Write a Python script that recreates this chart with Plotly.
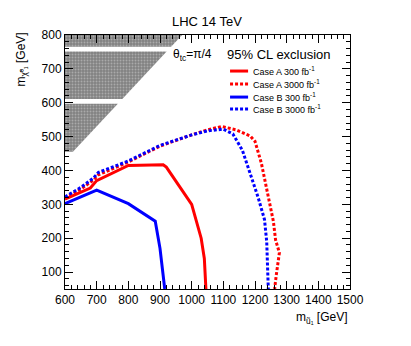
import plotly.graph_objects as go

# ---- data (GeV) ----
caseA300_x = [600, 680, 700, 800, 910, 920, 1000, 1030, 1040, 1045]
caseA300_y = [315, 348, 370, 415, 417, 410, 300, 200, 140, 50]

caseA3000_x = [600, 650, 690, 705, 800, 900, 1000, 1050, 1095, 1140, 1185, 1200, 1220, 1240, 1258, 1265, 1277, 1267, 1262]
caseA3000_y = [318, 345, 372, 387, 425, 472, 505, 520, 530, 520, 502, 486, 422, 334, 250, 195, 157, 90, 50]

caseB300_x = [600, 700, 800, 885, 900, 915]
caseB300_y = [302, 342, 302, 250, 170, 50]

caseB3000_x = [600, 650, 690, 705, 800, 900, 1000, 1050, 1100, 1130, 1160, 1185, 1210, 1230, 1237, 1242]
caseB3000_y = [322, 350, 378, 394, 428, 474, 505, 517, 522, 508, 460, 388, 320, 255, 190, 50]

series_names = ["Case A 300 fb<sup>-1</sup>", "Case A 3000 fb<sup>-1</sup>",
                "Case B 300 fb<sup>-1</sup>", "Case B 3000 fb<sup>-1</sup>"]

# excluded (kinematically forbidden) region bands: m_chi > m_u - 170, split by white gaps
band_lo = [765, 611, 455]
band_hi = [800, 751, 597]
kin_offset = 170

RED = "rgb(255,0,0)"
BLUE = "rgb(0,0,255)"
DOT = "3px,2px"
styles = [(RED, "solid"), (RED, DOT), (BLUE, "solid"), (BLUE, DOT)]
series = [(caseA300_x, caseA300_y), (caseA3000_x, caseA3000_y),
          (caseB300_x, caseB300_y), (caseB3000_x, caseB3000_y)]

fig = go.Figure()

# hatched region
for lo, hi in zip(band_lo, band_hi):
    xs = [600, hi + kin_offset, lo + kin_offset, 600, 600]
    ys = [hi, hi, lo, lo, hi]
    fig.add_trace(go.Scatter(
        x=xs, y=ys, mode="lines", fill="toself", line=dict(width=0),
        fillcolor="rgb(130,130,130)",
        fillpattern=dict(shape=".", bgcolor="rgb(130,130,130)", fgcolor="rgb(210,210,210)", size=3, solidity=0.3),
        showlegend=False, hoverinfo="skip"))

for (xs, ys), (col, dash), name in zip(series, styles, series_names):
    fig.add_trace(go.Scatter(x=xs, y=ys, mode="lines",
                             line=dict(color=col, width=3, dash=dash),
                             name=name, showlegend=False))

W, H = 411, 346
L, R, T, B = 65.3, 61.3, 35, 57.3
pw = W - L - R
ph = H - T - B

def px(xp):
    return (xp - L) / pw

def py(yp):
    return 1 - (yp - T) / ph

font = "Liberation Sans, Arial, Helvetica, sans-serif"

axis_common = dict(
    showgrid=False, zeroline=False, showline=True, linecolor="black", linewidth=1,
    mirror="allticks", ticks="inside", ticklen=8, tickcolor="black", tickwidth=1,
    tickfont=dict(size=12, color="black", family=font), automargin=False,
)

fig.update_xaxes(range=[600, 1500], dtick=100, tick0=600,
                 minor=dict(dtick=20, ticks="inside", ticklen=4, tickcolor="black"),
                 **axis_common)
fig.update_yaxes(range=[50, 800], dtick=100, tick0=0,
                 minor=dict(dtick=20, ticks="inside", ticklen=4, tickcolor="black"),
                 **axis_common)

# manual compact legend (sample lines + labels)
legend_rows_y = [71, 84, 97, 109]
shapes = []
annotations = []
for yrow, (col, dash), name in zip(legend_rows_y, styles, series_names):
    shapes.append(dict(type="line", xref="paper", yref="paper",
                       x0=px(230), x1=px(248), y0=py(yrow), y1=py(yrow),
                       line=dict(color=col, width=3, dash=dash)))
    annotations.append(dict(text=name, x=px(251), y=py(yrow), xref="paper", yref="paper",
                            showarrow=False, font=dict(size=9), xanchor="left", yanchor="middle"))

annotations += [
    dict(text="LHC 14 TeV", x=px(207), y=py(22), xref="paper", yref="paper",
         showarrow=False, font=dict(size=13), xanchor="center", yanchor="middle"),
    dict(text="θ<sub>tc</sub>=π/4", x=px(171), y=py(55), xref="paper", yref="paper",
         showarrow=False, font=dict(size=12), xanchor="left", yanchor="middle"),
    dict(text="95% CL exclusion", x=px(225), y=py(54), xref="paper", yref="paper",
         showarrow=False, font=dict(size=13), xanchor="left", yanchor="middle"),
    dict(text="m<sub>ũ₁</sub> [GeV]", x=px(350), y=py(318), xref="paper", yref="paper",
         showarrow=False, font=dict(size=12), xanchor="right", yanchor="middle"),
    dict(text="m<sub>χ̃⁰₁</sub> [GeV]", x=px(22), y=py(31), xref="paper", yref="paper",
         showarrow=False, font=dict(size=12), textangle=-90, xanchor="center", yanchor="top"),
]

fig.update_layout(
    width=W, height=H,
    margin=dict(l=L, r=R, t=T, b=B, autoexpand=False),
    plot_bgcolor="white", paper_bgcolor="white",
    font=dict(family=font, color="black"),
    showlegend=False,
    shapes=shapes,
    annotations=annotations,
)

fig.write_html("out.html", config={"displayModeBar": False},
               post_script="document.body.style.margin='0';")
